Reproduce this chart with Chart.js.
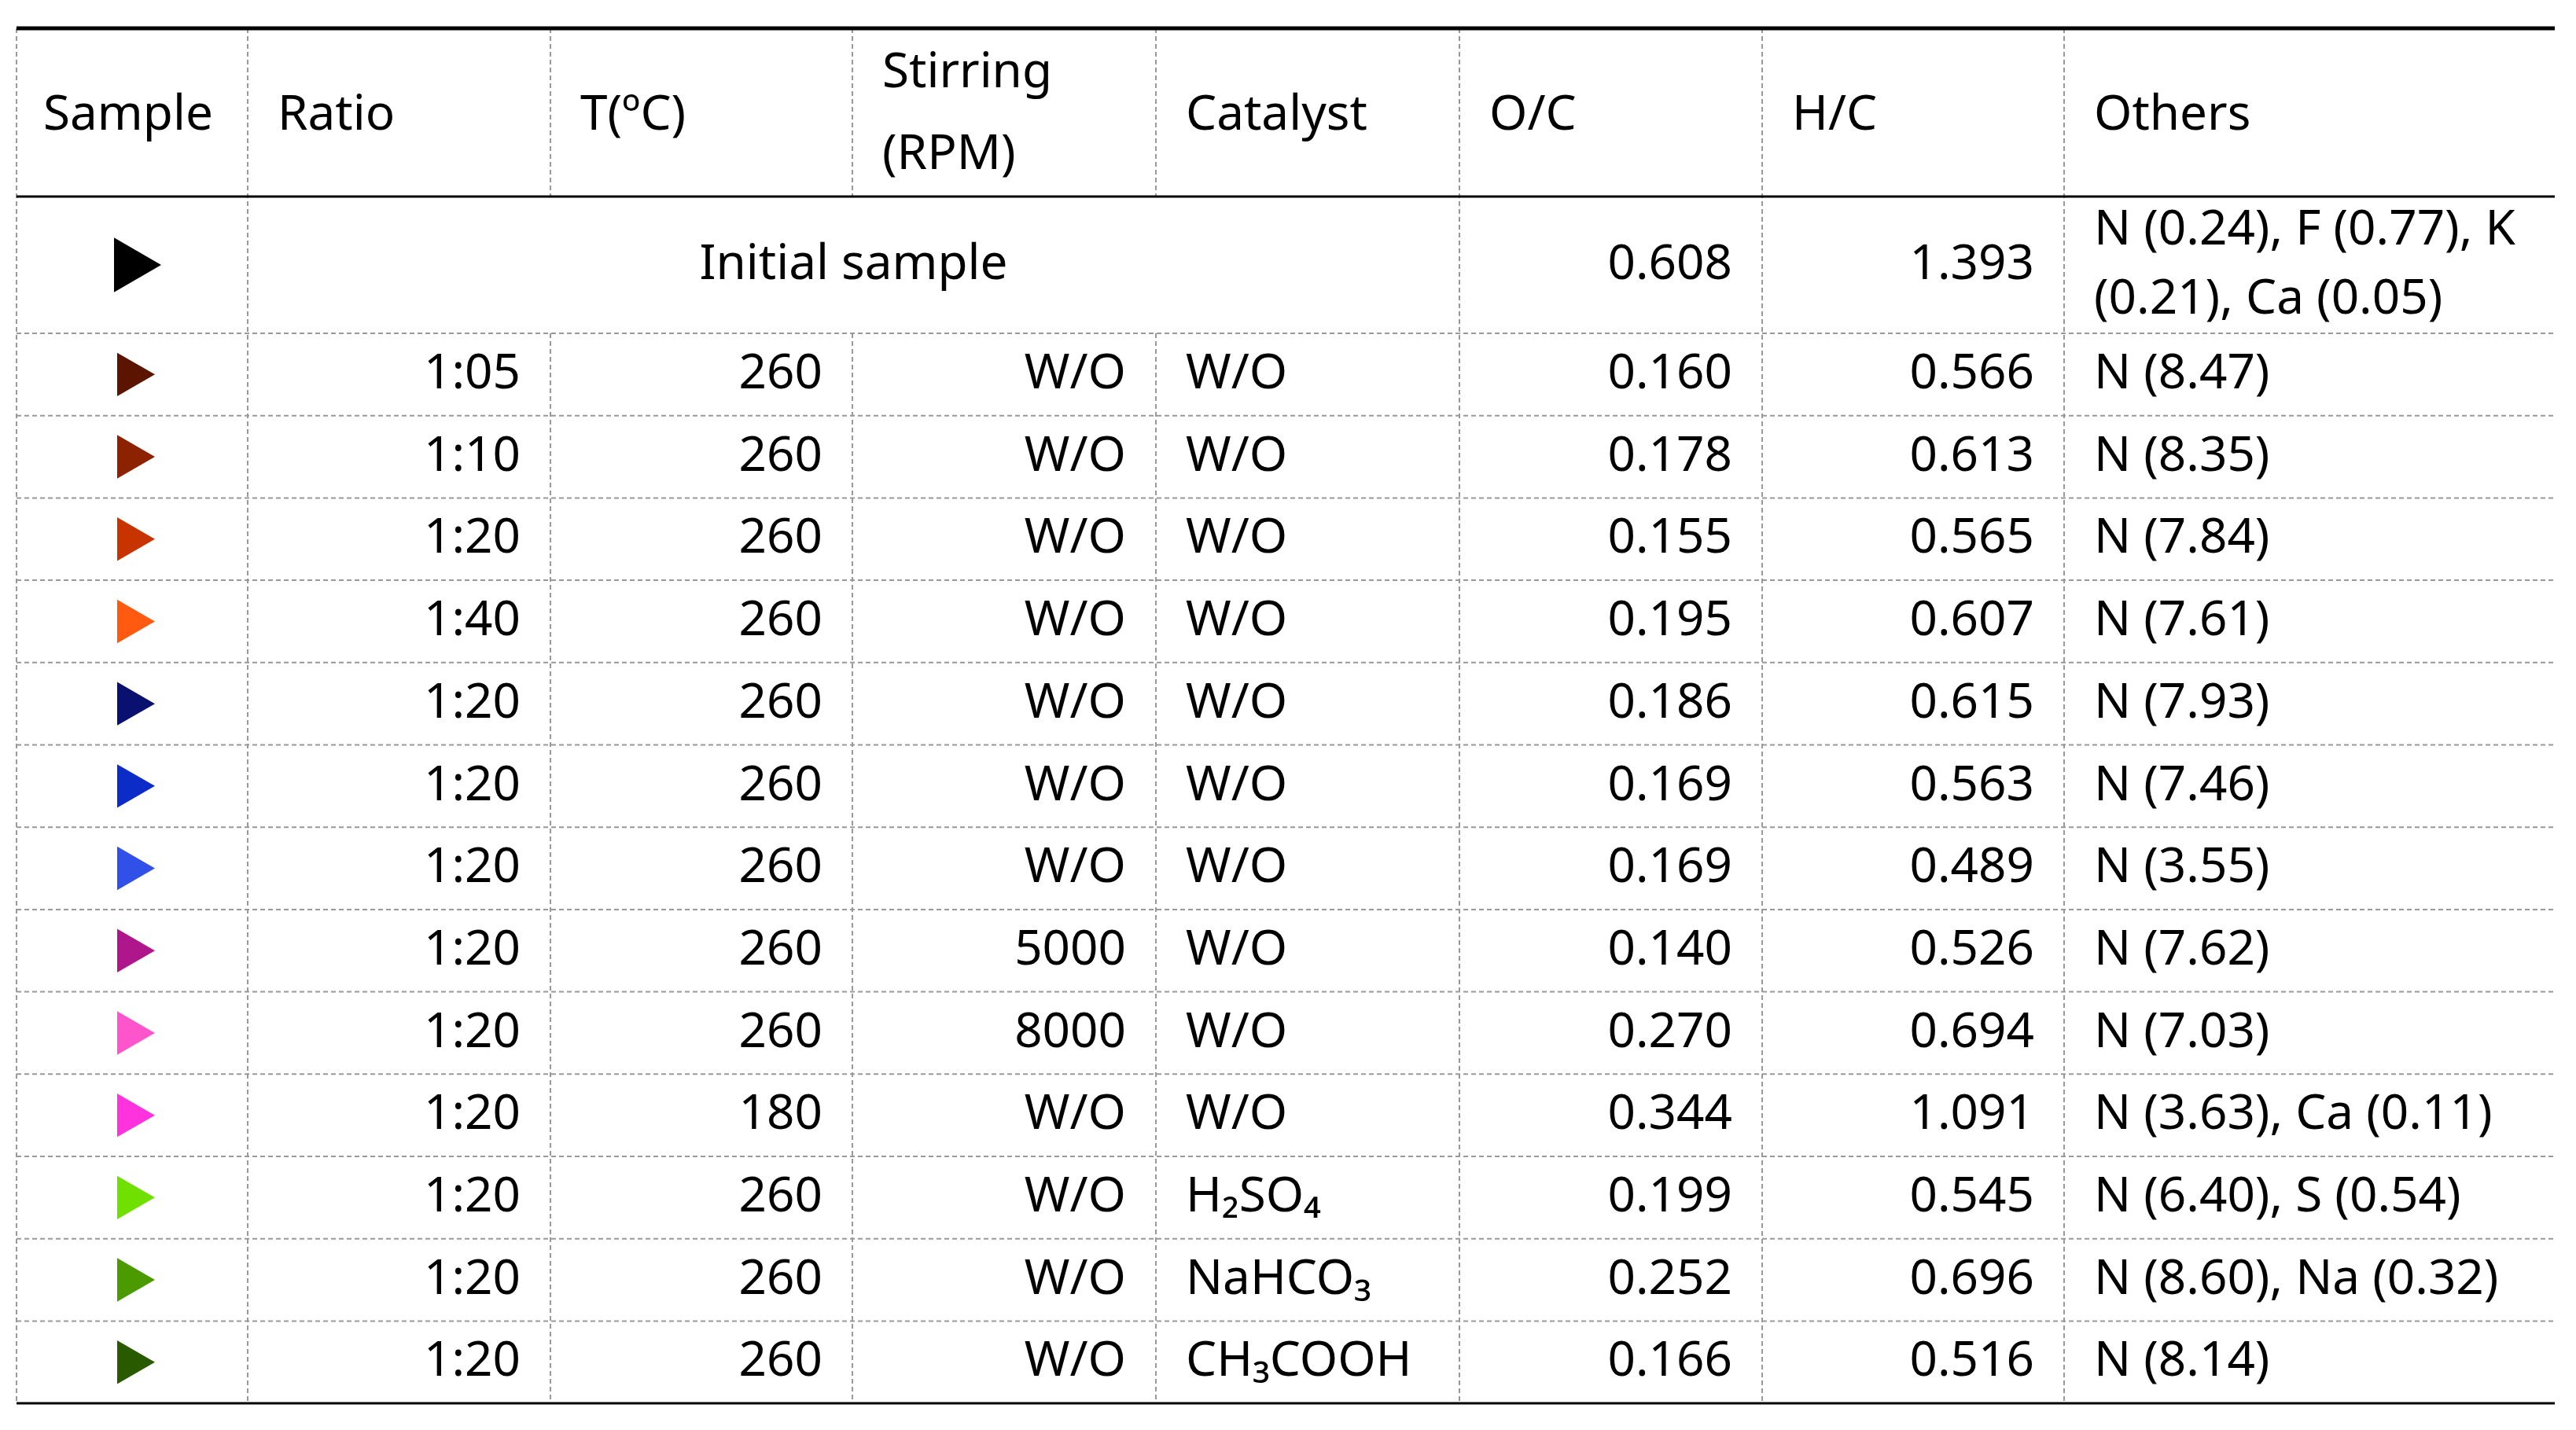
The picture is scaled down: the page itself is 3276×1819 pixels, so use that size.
<!DOCTYPE html>
<html>
<head>
<meta charset="utf-8">
<script src="https://cdn.jsdelivr.net/npm/chart.js@4"></script>
<style>
  body { margin: 0; background: #fff; }
  canvas { display: block; }
</style>
</head>
<body>
<canvas id="tableChart" width="3276" height="1819"></canvas>
<script>
// table data
var headers = ["Sample", "Ratio", "T(ºC)", "Stirring|(RPM)", "Catalyst", "O/C", "H/C", "Others"];
var ratios = ["1:05", "1:10", "1:20", "1:40", "1:20", "1:20", "1:20", "1:20", "1:20", "1:20", "1:20", "1:20", "1:20"];
var temps = ["260", "260", "260", "260", "260", "260", "260", "260", "260", "180", "260", "260", "260"];
var stirring = ["W/O", "W/O", "W/O", "W/O", "W/O", "W/O", "W/O", "5000", "8000", "W/O", "W/O", "W/O", "W/O"];
var catalysts = ["W/O", "W/O", "W/O", "W/O", "W/O", "W/O", "W/O", "W/O", "W/O", "W/O", "H₂SO₄", "NaHCO₃", "CH₃COOH"];
var oc = ["0.160", "0.178", "0.155", "0.195", "0.186", "0.169", "0.169", "0.140", "0.270", "0.344", "0.199", "0.252", "0.166"];
var hc = ["0.566", "0.613", "0.565", "0.607", "0.615", "0.563", "0.489", "0.526", "0.694", "1.091", "0.545", "0.696", "0.516"];
var others = ["N (8.47)", "N (8.35)", "N (7.84)", "N (7.61)", "N (7.93)", "N (7.46)", "N (3.55)", "N (7.62)", "N (7.03)", "N (3.63), Ca (0.11)", "N (6.40), S (0.54)", "N (8.60), Na (0.32)", "N (8.14)"];
var markerColors = ["#5a1400", "#8c2200", "#c83400", "#ff5a10", "#0a1070", "#0c2cc8", "#3050e8", "#b0168c", "#ff55cc", "#ff33dd", "#70e000", "#4a9a00", "#2a5a00"];

var initialLabel = "Initial sample";
var initialOC = "0.608";
var initialHC = "1.393";
var initialOthers = ["N (0.24), F (0.77), K", "(0.21), Ca (0.05)"];

// layout (pixels)
var colEdges = [21, 315, 700, 1084, 1470, 1856, 2241, 2625, 3249];
var topY = 36, headBottom = 250, initBottom = 424, rowH = 104.7;
var FONT = "62px 'Noto Sans'";
var pad = 38;

function rowCenterPx(r) { return initBottom + (r - 0.5) * rowH; }

var tablePlugin = {
  id: "tableDraw",
  beforeDatasetsDraw: function (chart) {
    var ctx = chart.ctx;
    var ys = chart.scales.y;
    ctx.save();
    var bottomY = ys.getPixelForValue(13.5);

    // dashed grid
    ctx.strokeStyle = "#999";
    ctx.lineWidth = 2;
    ctx.setLineDash([6, 4]);
    colEdges.slice(0, 8).forEach(function (x, i) {
      ctx.beginPath();
      if (i >= 2 && i <= 4) {
        ctx.moveTo(x, topY); ctx.lineTo(x, headBottom);
        ctx.moveTo(x, initBottom); ctx.lineTo(x, bottomY);
      } else {
        ctx.moveTo(x, topY); ctx.lineTo(x, bottomY);
      }
      ctx.stroke();
    });
    for (var r = 0; r <= 12; r++) {
      var y = ys.getPixelForValue(r + 0.5);
      ctx.beginPath(); ctx.moveTo(colEdges[0], y); ctx.lineTo(colEdges[8], y); ctx.stroke();
    }
    ctx.setLineDash([]);
    ctx.strokeStyle = "#000";
    ctx.lineWidth = 5;
    ctx.beginPath(); ctx.moveTo(colEdges[0], topY); ctx.lineTo(colEdges[8], topY); ctx.stroke();
    ctx.lineWidth = 3;
    ctx.beginPath(); ctx.moveTo(colEdges[0], headBottom); ctx.lineTo(colEdges[8], headBottom); ctx.stroke();
    ctx.beginPath(); ctx.moveTo(colEdges[0], bottomY); ctx.lineTo(colEdges[8], bottomY); ctx.stroke();

    // text
    ctx.fillStyle = "#000";
    ctx.font = FONT;
    ctx.textBaseline = "middle";
    ctx.textAlign = "left";
    var hy = (topY + headBottom) / 2 + 4;
    headers.forEach(function (h, i) {
      var x = i === 0 ? 55 : colEdges[i] + pad;
      var parts = h.split("|");
      if (parts.length === 2) {
        ctx.fillText(parts[0], x, hy - 54);
        ctx.fillText(parts[1], x, hy + 50);
      } else {
        ctx.fillText(h, x, hy);
      }
    });

    var iy = (headBottom + initBottom) / 2;
    ctx.textAlign = "center";
    ctx.fillText(initialLabel, (colEdges[1] + colEdges[5]) / 2, iy);
    ctx.textAlign = "right";
    ctx.fillText(initialOC, colEdges[6] - pad, iy);
    ctx.fillText(initialHC, colEdges[7] - pad, iy);
    ctx.textAlign = "left";
    ctx.fillText(initialOthers[0], colEdges[7] + pad, iy - 44);
    ctx.fillText(initialOthers[1], colEdges[7] + pad, iy + 44);

    for (var k = 0; k < ratios.length; k++) {
      var cy = ys.getPixelForValue(k + 1);
      ctx.textAlign = "right";
      ctx.fillText(ratios[k], colEdges[2] - pad, cy);
      ctx.fillText(temps[k], colEdges[3] - pad, cy);
      ctx.fillText(stirring[k], colEdges[4] - pad, cy);
      ctx.fillText(oc[k], colEdges[6] - pad, cy);
      ctx.fillText(hc[k], colEdges[7] - pad, cy);
      ctx.textAlign = "left";
      ctx.fillText(catalysts[k], colEdges[4] + pad, cy);
      ctx.fillText(others[k], colEdges[7] + pad, cy);
    }
    ctx.restore();
  }
};

var yMin = (0 - rowCenterPx(0)) / rowH;
var yMax = (1819 - rowCenterPx(0)) / rowH;
var initialY = ((headBottom + initBottom) / 2 - rowCenterPx(0)) / rowH;
var markerX = 165;

var rowPoints = ratios.map(function (_, i) { return { x: 0, y: i + 1 }; });

new Chart(document.getElementById("tableChart"), {
  type: "scatter",
  data: {
    datasets: [
      {
        data: [{ x: 0, y: initialY }],
        pointStyle: "triangle",
        rotation: 90,
        radius: 40,
        backgroundColor: "#000",
        borderWidth: 0,
      },
      {
        data: rowPoints,
        pointStyle: "triangle",
        rotation: 90,
        radius: 32,
        backgroundColor: markerColors,
        borderWidth: 0,
      },
    ],
  },
  options: {
    responsive: false,
    animation: false,
    devicePixelRatio: 1,
    layout: { padding: 0, autoPadding: false },
    plugins: { legend: { display: false }, tooltip: { enabled: false } },
    scales: {
      x: { display: false, min: -markerX, max: 3276 - markerX },
      y: { display: false, reverse: true, min: yMin, max: yMax },
    },
  },
  plugins: [tablePlugin],
});
</script>
</body>
</html>
